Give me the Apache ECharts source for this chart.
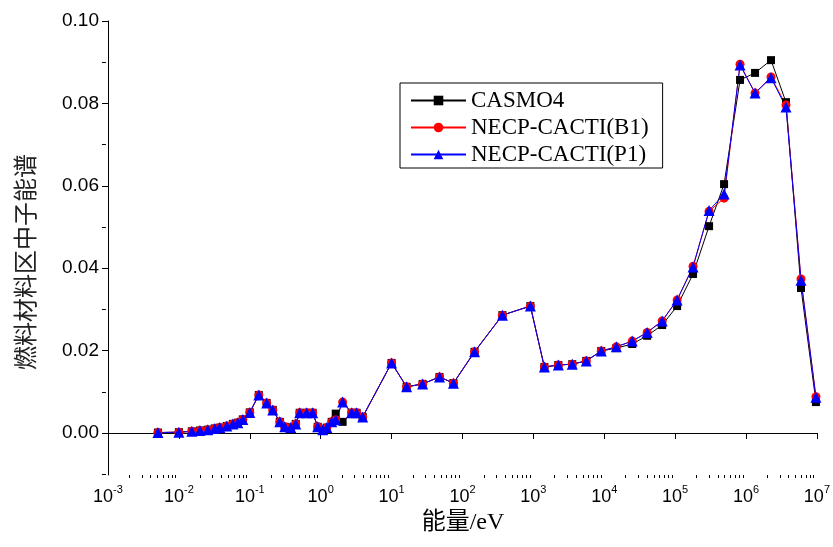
<!DOCTYPE html>
<html>
<head>
<meta charset="utf-8">
<script src="https://cdn.jsdelivr.net/npm/echarts@6/dist/echarts.min.js"></script>
<style>html,body{margin:0;padding:0;background:#fff;}#c{width:833px;height:547px;}</style>
</head>
<body>
<div id="c"></div>
<script>
const energy = [0.00506, 0.01, 0.0152, 0.0198, 0.0256, 0.0321, 0.0378, 0.0474, 0.0577, 0.0678,
  0.0797, 0.100, 0.134, 0.173, 0.211, 0.265, 0.311, 0.378, 0.445, 0.506,
  0.635, 0.771, 0.908, 1.07, 1.22, 1.43, 1.63, 2.04, 2.73, 3.21,
  3.91, 10, 16.3, 27.4, 47.4, 74.6, 148, 366, 908, 1430,
  2250, 3540, 5570, 9080, 14800, 24800, 40300, 65600, 106700, 179000,
  301000, 490000, 823000, 1340000, 2250000, 3660000, 5960000, 9680000];

const casmo4 = [0.0001, 0.0002, 0.0004, 0.0006, 0.0008, 0.0011, 0.0013, 0.0017, 0.0022, 0.0025,
  0.0033, 0.0050, 0.0092, 0.0073, 0.0056, 0.0027, 0.0015, 0.0013, 0.0022, 0.0049,
  0.0049, 0.0049, 0.0015, 0.0008, 0.0013, 0.0027, 0.0047, 0.0027, 0.0049, 0.0049,
  0.0039, 0.0170, 0.0112, 0.0119, 0.0136, 0.0121, 0.0197, 0.0286, 0.0308, 0.0160,
  0.0165, 0.0167, 0.0175, 0.0199, 0.0206, 0.0216, 0.0236, 0.0262, 0.0308, 0.0386,
  0.0502, 0.0604, 0.0857, 0.0874, 0.0905, 0.0803, 0.0352, 0.0075];

const necpB1 = [0.0001, 0.0002, 0.0004, 0.0006, 0.0008, 0.0011, 0.0013, 0.0017, 0.0022, 0.0025,
  0.0033, 0.0050, 0.0092, 0.0073, 0.0056, 0.0027, 0.0015, 0.0013, 0.0022, 0.0049,
  0.0049, 0.0049, 0.0015, 0.0008, 0.0013, 0.0027, 0.0032, 0.0075, 0.0049, 0.0049,
  0.0039, 0.0170, 0.0112, 0.0119, 0.0136, 0.0121, 0.0197, 0.0286, 0.0308, 0.0160,
  0.0165, 0.0167, 0.0175, 0.0199, 0.0209, 0.0223, 0.0244, 0.0272, 0.0323, 0.0405,
  0.0538, 0.0570, 0.0895, 0.0825, 0.0864, 0.0796, 0.0374, 0.0088];

const necpP1 = [0.0001, 0.0002, 0.0004, 0.0006, 0.0008, 0.0011, 0.0013, 0.0017, 0.0022, 0.0025,
  0.0033, 0.0050, 0.0092, 0.0073, 0.0056, 0.0027, 0.0015, 0.0013, 0.0022, 0.0049,
  0.0049, 0.0049, 0.0015, 0.0008, 0.0013, 0.0027, 0.0032, 0.0075, 0.0049, 0.0049,
  0.0039, 0.0170, 0.0112, 0.0119, 0.0136, 0.0121, 0.0197, 0.0286, 0.0308, 0.0160,
  0.0165, 0.0167, 0.0175, 0.0199, 0.0209, 0.0223, 0.0244, 0.0272, 0.0323, 0.0403,
  0.0540, 0.0580, 0.0893, 0.0825, 0.0862, 0.0791, 0.0371, 0.0087];

const seriesNames = ['CASMO4', 'NECP-CACTI(B1)', 'NECP-CACTI(P1)'];
const xMajorTicks = [1e-3, 1e-2, 1e-1, 1e0, 1e1, 1e2, 1e3, 1e4, 1e5, 1e6, 1e7];
const yMajorTicks = [0, 0.02, 0.04, 0.06, 0.08, 0.10];
const yMinorTicks = [-0.01, 0.01, 0.03, 0.05, 0.07, 0.09];
const xMinorTicks = [];
for (let e = -3; e < 7; e++) {
  for (let m = 2; m <= 9; m++) xMinorTicks.push(m * Math.pow(10, e));
}
const xTitle = '能量/eV';
const yTitle = '燃料材料区中子能谱';

function pairs(vals) { return energy.map((e, i) => [e, vals[i]]); }

const W = 833, H = 547;
const G = { left: 108, right: 14, top: 21, bottom: 72 };
const plotW = W - G.left - G.right;
const plotH = H - G.top - G.bottom;

const chart = echarts.init(document.getElementById('c'), null, { renderer: 'canvas' });
const axisLine = { show: true, lineStyle: { color: '#000', width: 1 } };
chart.setOption({
  animation: false,
  backgroundColor: '#fff',
  grid: { left: G.left, right: G.right, top: G.top, bottom: G.bottom, containLabel: false },
  xAxis: [
    {
      type: 'log', logBase: 10, min: 1e-3, max: 1e7, position: 'bottom',
      axisLine: axisLine,
      axisTick: { show: true, inside: false, length: 6, customValues: xMajorTicks, lineStyle: { color: '#000' } },
      axisLabel: {
        show: true, customValues: xMajorTicks, margin: 9,
        formatter: function (v) { return '{b|10}{s|' + Math.round(Math.log10(v)) + '}'; },
        rich: {
          b: { fontSize: 18, fontFamily: 'Liberation Sans', color: '#000', lineHeight: 22, verticalAlign: 'bottom' },
          s: { fontSize: 11, fontFamily: 'Liberation Sans', color: '#000', lineHeight: 22, verticalAlign: 'top', padding: [0, 0, 10, 0] }
        }
      },
      splitLine: { show: false }
    },
    {
      type: 'log', logBase: 10, min: 1e-3, max: 1e7, position: 'top', offset: -plotH,
      axisLine: { show: false },
      axisTick: { show: true, inside: true, length: 3, customValues: xMinorTicks, lineStyle: { color: '#000' } },
      axisLabel: { show: false },
      splitLine: { show: false }
    }
  ],
  yAxis: [
    {
      type: 'value', min: -0.0102, max: 0.1, position: 'left',
      axisLine: axisLine,
      axisTick: { show: true, inside: false, length: 6, customValues: yMajorTicks, lineStyle: { color: '#000' } },
      axisLabel: {
        show: true, customValues: yMajorTicks, margin: 9,
        fontSize: 19, fontFamily: 'Liberation Sans', color: '#000',
        formatter: function (v) { return v.toFixed(2); }
      },
      splitLine: { show: false }
    },
    {
      type: 'value', min: -0.0102, max: 0.1, position: 'right', offset: -plotW,
      axisLine: { show: false },
      axisTick: { show: true, inside: true, length: 4, customValues: yMinorTicks, lineStyle: { color: '#000' } },
      axisLabel: { show: false },
      splitLine: { show: false }
    }
  ],
  legend: {
    data: seriesNames, orient: 'vertical', left: 400, top: 83,
    itemWidth: 55, itemHeight: 12, itemGap: 4,
    borderColor: '#000', borderWidth: 1, padding: [6, 14, 2, 10],
    textStyle: { fontFamily: 'Liberation Serif', fontSize: 23, color: '#000', lineHeight: 20 }
  },
  graphic: [
    {
      type: 'text', x: 25, y: 262, rotation: Math.PI / 2,
      style: { text: yTitle, font: '24px "Noto Sans CJK SC"', fill: '#222', align: 'center', verticalAlign: 'middle' }
    },
    {
      type: 'text', x: 463, y: 523,
      style: { text: xTitle, font: '24px "Liberation Serif", "Noto Sans CJK SC"', fill: '#000', align: 'center', verticalAlign: 'middle' }
    }
  ],
  series: [
    {
      name: seriesNames[0], type: 'line', xAxisIndex: 0, yAxisIndex: 0,
      data: pairs(casmo4), symbol: 'rect', symbolSize: 8,
      itemStyle: { color: '#000' }, lineStyle: { color: '#000', width: 1 }
    },
    {
      name: seriesNames[1], type: 'line', xAxisIndex: 0, yAxisIndex: 0,
      data: pairs(necpB1), symbol: 'circle', symbolSize: 9,
      itemStyle: { color: '#ff0000' }, lineStyle: { color: '#ff0000', width: 1 }
    },
    {
      name: seriesNames[2], type: 'line', xAxisIndex: 0, yAxisIndex: 0,
      data: pairs(necpP1), symbol: 'triangle', symbolSize: 11,
      itemStyle: { color: '#0000ff' }, lineStyle: { color: '#0000ff', width: 1 }
    }
  ]
});
</script>
</body>
</html>
